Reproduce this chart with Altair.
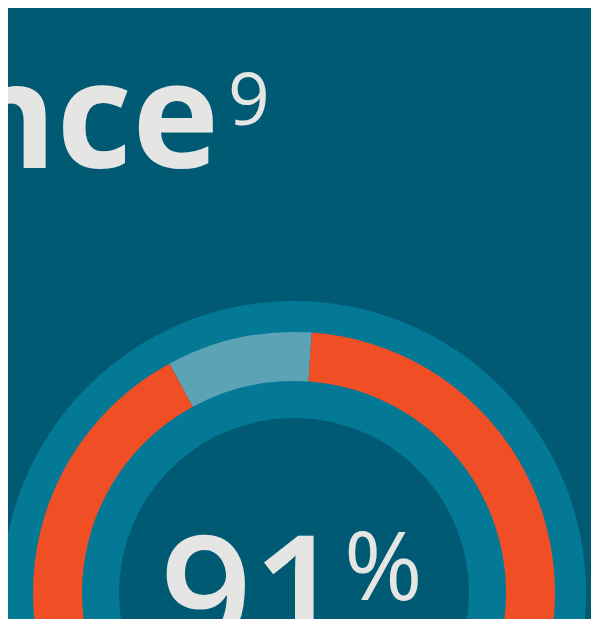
import math
import altair as alt
import pandas as pd

# ---- data ----
segments = ["Remaining", "Achieved"]
values = [9, 91]
seg_order = [0, 1]
seg_colors = ["#5ba3b5", "#f04e25"]

headline_text = "nce"
footnote_mark = "9"
big_number = "91"
percent_sign = "%"

BG = "#005a73"
RING = "#037996"
TEXT = "#e5e5e3"

W, H = 583, 611
CX, CY = 286, 585
start = math.radians(-28.5)

df = pd.DataFrame({"segment": segments, "value": values, "order": seg_order})
one = pd.DataFrame({"k": [0]})

ring = alt.Chart(one).mark_arc(
    radius=292, radius2=175, theta=0, theta2=2 * math.pi, color=RING
).encode(x=alt.value(CX), y=alt.value(CY))

donut = alt.Chart(df).mark_arc(radius=261, radius2=212).encode(
    theta=alt.Theta("value:Q", stack=True,
                    scale=alt.Scale(range=[start, start + 2 * math.pi])),
    order=alt.Order("order:Q"),
    color=alt.Color("segment:N", scale=alt.Scale(domain=segments, range=seg_colors), legend=None),
    x=alt.value(CX), y=alt.value(CY),
)

head = alt.Chart(pd.DataFrame({"t": [headline_text]})).mark_text(
    font="Open Sans", fontWeight="bold", fontSize=147, color=TEXT,
    align="right", baseline="alphabetic"
).encode(text="t:N", x=alt.value(211), y=alt.value(160))

sup = alt.Chart(pd.DataFrame({"t": [footnote_mark]})).mark_text(
    font="Open Sans", fontSize=73, color=TEXT, align="left", baseline="alphabetic"
).encode(text="t:N", x=alt.value(220), y=alt.value(117))

num = alt.Chart(pd.DataFrame({"t": [big_number]})).mark_text(
    font="Open Sans", fontWeight=600, fontSize=161, color=TEXT, align="left", baseline="alphabetic"
).encode(text="t:N", x=alt.value(152), y=alt.value(643))

pct = alt.Chart(pd.DataFrame({"t": [percent_sign]})).mark_text(
    font="Open Sans", fontWeight=500, fontSize=95, color=TEXT, align="left", baseline="alphabetic"
).encode(text="t:N", x=alt.value(336), y=alt.value(592))

chart = alt.layer(ring, donut, head, sup, num, pct).properties(
    width=W, height=H,
    autosize=alt.AutoSizeParams(type="none"),
    padding=0,
    background=BG,
).configure_view(stroke=None, fill=BG)

chart.save("out.html", embed_options={"renderer": "svg", "actions": False})
